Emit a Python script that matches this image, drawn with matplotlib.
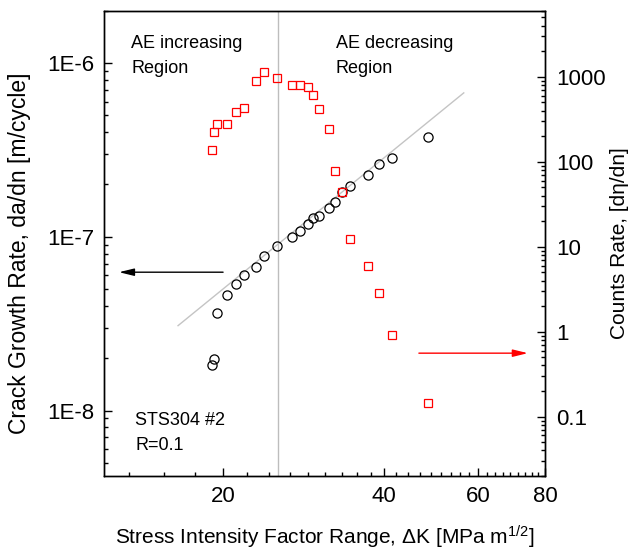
import matplotlib
matplotlib.use("Agg")
import matplotlib.pyplot as plt
from matplotlib.ticker import FixedLocator, FixedFormatter, NullFormatter, LogLocator

plt.rcParams["font.family"] = ["Liberation Sans", "DejaVu Sans"]
plt.rcParams["mathtext.fontset"] = "custom"
plt.rcParams["mathtext.rm"] = "Liberation Sans"
plt.rcParams["mathtext.it"] = "Liberation Sans:italic"

# stress intensity factor range [MPa m^1/2], shared by both series
delta_k = [19.1, 19.3, 19.5, 20.4, 21.15, 21.9, 23.07, 23.93, 25.3, 26.9, 27.9,
           28.85, 29.5, 30.25, 31.6, 32.4, 33.4, 34.5, 37.4, 39.2, 41.4, 48.3]
# crack growth rate da/dn [m/cycle]
crack_rate = [1.82e-8, 1.98e-8, 3.62e-8, 4.63e-8, 5.37e-8, 6.03e-8, 6.70e-8,
              7.71e-8, 8.90e-8, 1.00e-7, 1.08e-7, 1.19e-7, 1.29e-7, 1.32e-7,
              1.47e-7, 1.59e-7, 1.80e-7, 1.95e-7, 2.28e-7, 2.64e-7, 2.84e-7, 3.77e-7]
# AE counts rate [dη/dn]
counts_rate = [137, 225, 282, 282, 386, 432, 885, 1130, 968, 801, 795, 753, 606,
               423, 240, 77.6, 44.3, 12.2, 6.0, 2.84, 0.925, 0.143]

# Paris-law fit line (end points)
fit_dk = [16.5, 56.4]
fit_rate = [3.08e-8, 6.73e-7]
boundary_dk = 25.4

x_major = [20, 40, 60, 80]
y_major = [1e-8, 1e-7, 1e-6]
y_major_labels = ["1E-8", "1E-7", "1E-6"]
r_major = [0.1, 1, 10, 100, 1000]
r_major_labels = ["0.1", "1", "10", "100", "1000"]

fig = plt.figure(figsize=(6.35, 5.51), dpi=100)
ax = fig.add_axes([0.1638, 0.1361, 0.6945, 0.8445])
ax2 = ax.twinx()

ax.plot(fit_dk, fit_rate, color="#c4c4c4", lw=1.0, zorder=1)
ax.axvline(boundary_dk, color="#bdbdbd", lw=1.0, zorder=1)
ax.plot(delta_k, crack_rate, "o", ms=6.6, mfc="none", mec="black", mew=0.9, zorder=3)
ax2.plot(delta_k, counts_rate, "s", ms=5.8, mfc="none", mec="#ff0000", mew=0.9, zorder=3)

ax.set_xscale("log")
ax.set_yscale("log")
ax2.set_yscale("log")
ax.set_xlim(12, 80)
ax.set_ylim(4.2e-9, 2e-6)
ax2.set_ylim(0.02, 6000)

minor_x = [20 + k * 20 / 9 for k in range(-3, 28) if k % 9 != 0]
ax.xaxis.set_major_locator(FixedLocator(x_major))
ax.xaxis.set_major_formatter(FixedFormatter([str(v) for v in x_major]))
ax.xaxis.set_minor_locator(FixedLocator(minor_x))
ax.xaxis.set_minor_formatter(NullFormatter())

ax.yaxis.set_major_locator(FixedLocator(y_major))
ax.yaxis.set_major_formatter(FixedFormatter(y_major_labels))
ax.yaxis.set_minor_locator(LogLocator(base=10, subs=range(2, 10), numticks=20))
ax.yaxis.set_minor_formatter(NullFormatter())

ax2.yaxis.set_major_locator(FixedLocator(r_major))
ax2.yaxis.set_major_formatter(FixedFormatter(r_major_labels))
ax2.yaxis.set_minor_locator(LogLocator(base=10, subs=range(2, 10), numticks=20))
ax2.yaxis.set_minor_formatter(NullFormatter())

for a in (ax, ax2):
    for s in a.spines.values():
        s.set_linewidth(1.0)

ax.tick_params(which="both", direction="in", top=False, right=False, width=1.0,
               labelsize=16)
ax.tick_params(which="major", length=6, pad=7)
ax.tick_params(which="minor", length=3.2)
ax2.tick_params(which="both", direction="in", right=True, left=False, width=1.0,
                labelsize=16)
ax2.tick_params(which="major", length=6, pad=8)
ax2.tick_params(which="minor", length=3.2)

ax.set_xlabel("Stress Intensity Factor Range, \u0394K [MPa m$^{1/2}$]", fontsize=15,
              labelpad=12)
ax.set_ylabel("Crack Growth Rate, da/dn [m/cycle]", fontsize=16.5)
ax.yaxis.set_label_coords(-0.166, 0.479)
ax2.set_ylabel("Counts Rate, [d\u03b7/dn]", fontsize=15, labelpad=3)

txt = dict(transform=ax.transAxes, fontsize=13, va="baseline", ha="left")
ax.text(0.0612, 0.9198, "AE increasing", **txt)
ax.text(0.0612, 0.8661, "Region", **txt)
ax.text(0.5254, 0.9198, "AE decreasing", **txt)
ax.text(0.5254, 0.8661, "Region", **txt)
ax.text(0.0703, 0.1096, "STS304 #2", **txt)
ax.text(0.0703, 0.0559, "R=0.1", **txt)

ax.annotate("", xy=(0.034, 0.438), xytext=(0.270, 0.438), xycoords="axes fraction",
            arrowprops=dict(arrowstyle="-|>,head_length=0.9,head_width=0.22",
                            color="black", lw=1.0, shrinkA=0, shrinkB=0))
ax.annotate("", xy=(0.961, 0.264), xytext=(0.714, 0.264), xycoords="axes fraction",
            arrowprops=dict(arrowstyle="-|>,head_length=0.9,head_width=0.22",
                            color="#ff0000", lw=1.0, shrinkA=0, shrinkB=0))

fig.savefig("out.png", dpi=100)
